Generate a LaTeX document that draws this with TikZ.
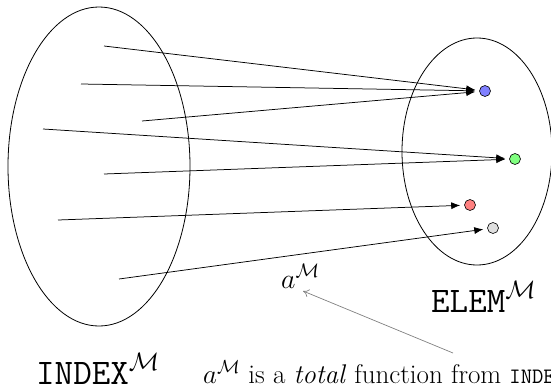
\RequirePackage{fix-cm}
\documentclass[tikz,border=0pt]{standalone}
\usetikzlibrary{arrows.meta}
\begin{document}
\begin{tikzpicture}[x=1pt,y=-1pt,
  setline/.style={line width=0.8pt},
  dot/.style={circle,draw=black,line width=0.6pt,minimum size=11pt,inner sep=0pt},
  maparrow/.style={line width=0.75pt,-{Latex[length=9pt,width=7pt]},shorten >=4pt},
  notearrow/.style={draw=gray,line width=0.7pt,-{To[length=6pt,width=8pt]}},
  bigtt/.style={inner sep=0pt,font=\fontsize{36}{40}\selectfont},
  mtext/.style={inner sep=0pt,font=\fontsize{27}{32}\selectfont}]
\useasboundingbox (0,0) rectangle (551,388);
% sets
\draw[setline] (99,166.5) ellipse [x radius=91, y radius=159.5];
\draw[setline] (477,151.5) ellipse [x radius=75, y radius=113.5];
% elements of ELEM
\node[dot,fill=blue!50] (eb) at (485,91) {};
\node[dot,fill=green!50] (eg) at (515,159) {};
\node[dot,fill=red!50] (er) at (470,205) {};
\node[dot,fill=gray!25] (ey) at (493,228) {};
% index points
\coordinate (i1) at (104,46);
\coordinate (i2) at (81,84);
\coordinate (i3) at (142,121);
\coordinate (i4) at (43,129);
\coordinate (i5) at (104,174);
\coordinate (i6) at (58,220);
\coordinate (i7) at (119,279);
\draw[maparrow] (i1) -- (eb);
\draw[maparrow] (i2) -- (eb);
\draw[maparrow] (i3) -- (eb);
\draw[maparrow] (i4) -- (eg);
\draw[maparrow] (i5) -- (eg);
\draw[maparrow] (i6) -- (er);
\draw[maparrow] (i7) -- (ey);
% labels
\node[bigtt,anchor=base west] (index) at (36,384) {\texttt{INDEX}$^{\mathcal{M}}$};
\node[bigtt,anchor=base west] (elem) at (431,312) {\texttt{ELEM}$^{\mathcal{M}}$};
\node[inner sep=0pt,font=\fontsize{28}{32}\selectfont,anchor=base west] (am) at (281,288) {$a^{\mathcal{M}}$};
\node[mtext,anchor=base west] (caption) at (203,383) {$a^{\mathcal{M}}$ is a \emph{total} function from {\fontsize{22}{26}\selectfont\texttt{INDEX}$^{\mathcal{M}}$ to \texttt{ELEM}$^{\mathcal{M}}$}};
\coordinate (notetail) at (453,353);
\coordinate (notetip) at (303,291);
\draw[notearrow] (notetail) -- (notetip);
\end{tikzpicture}
\end{document}
